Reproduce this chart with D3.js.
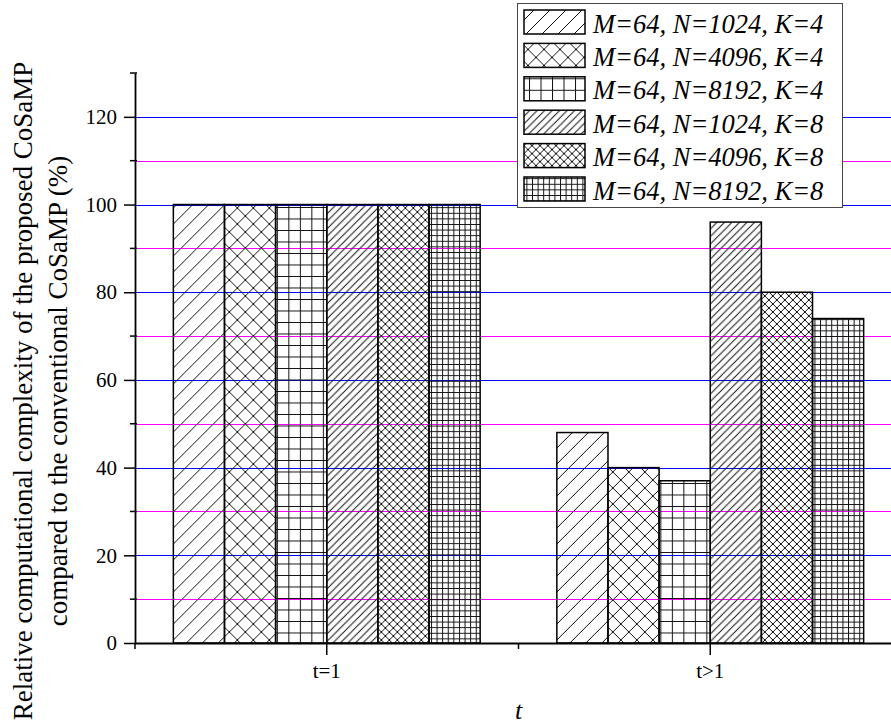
<!DOCTYPE html>
<html>
<head>
<meta charset="utf-8">
<script src="https://cdn.jsdelivr.net/npm/d3@7"></script>
<style>
  body { margin: 0; background: #fff; }
  svg text { font-family: "Liberation Serif", "Times New Roman", serif; fill: #000; }
</style>
</head>
<body>
<svg id="chart" width="891" height="725"></svg>
<script>
// data
var categories = ["t=1", "t>1"];
var seriesLabels = [
    "M=64, N=1024, K=4",
    "M=64, N=4096, K=4",
    "M=64, N=8192, K=4",
    "M=64, N=1024, K=8",
    "M=64, N=4096, K=8",
    "M=64, N=8192, K=8"
];
var seriesValues = [
    [100, 48],
    [100, 40],
    [100, 37],
    [100, 96],
    [100, 80],
    [100, 74]
];
var majorTicks = [0, 20, 40, 60, 80, 100, 120];
var minorTicks = [10, 30, 50, 70, 90, 110, 130];

var svg = d3.select("#chart");
var plotLeft = 135, plotRight = 902, plotTop = 73, plotBottom = 643;

var x0 = d3.scaleBand()
    .domain(categories)
    .range([plotLeft, plotRight])
    .paddingInner(0.2)
    .paddingOuter(0.1);

var x1 = d3.scaleBand()
    .domain(d3.range(seriesLabels.length))
    .range([0, x0.bandwidth()]);

var y = d3.scaleLinear()
    .domain([0, 130])
    .range([plotBottom, plotTop]);

// hatch patterns: kind, spacing
var patternDefs = [
    {type: "diag", s: 16},
    {type: "cross", s: 16},
    {type: "grid", s: 11.5},
    {type: "diag", s: 7.5},
    {type: "cross", s: 8},
    {type: "grid", s: 5.6}
];

var defs = svg.append("defs");
patternDefs.forEach(function (p, i) {
    var s = p.s;
    var pat = defs.append("pattern")
        .attr("id", "pat" + i)
        .attr("patternUnits", "userSpaceOnUse")
        .attr("width", s)
        .attr("height", s);
    var d = "";
    if (p.type === "diag" || p.type === "cross") {
        d += "M0," + s + "L" + s + ",0M-1,1L1,-1M" + (s - 1) + "," + (s + 1) + "L" + (s + 1) + "," + (s - 1);
    }
    if (p.type === "cross") {
        d += "M0,0L" + s + "," + s + "M-1," + (s - 1) + "L1," + (s + 1) + "M" + (s - 1) + ",-1L" + (s + 1) + ",1";
    }
    if (p.type === "grid") {
        d += "M0.5,0V" + s + "M0,0.5H" + s;
    }
    pat.append("path")
        .attr("d", d)
        .attr("stroke", "#111")
        .attr("stroke-width", 1)
        .attr("fill", "none");
});

//grid lines
svg.append("g")
    .selectAll("line")
    .data(majorTicks.slice(1).concat(minorTicks.slice(0, -1)))
    .enter()
    .append("line")
    .attr("x1", plotLeft)
    .attr("x2", 891)
    .attr("y1", function (d) { return Math.round(y(d)) + 0.5; })
    .attr("y2", function (d) { return Math.round(y(d)) + 0.5; })
    .attr("stroke", function (d) { return d % 20 === 0 ? "#0000ff" : "#ff00ff"; })
    .attr("stroke-width", 1);

//bars
var groups = svg.append("g")
    .selectAll("g")
    .data(categories)
    .enter()
    .append("g")
    .attr("transform", function (d) { return "translate(" + x0(d) + ",0)"; });

groups.selectAll("rect")
    .data(function (d, ci) {
        return seriesValues.map(function (vals, si) { return {s: si, v: vals[ci]}; });
    })
    .enter()
    .append("rect")
    .attr("x", function (d) { return x1(d.s); })
    .attr("width", x1.bandwidth())
    .attr("y", function (d) { return y(d.v); })
    .attr("height", function (d) { return y(0) - y(d.v); })
    .attr("fill", function (d) { return "url(#pat" + d.s + ")"; })
    .attr("stroke", "#000")
    .attr("stroke-width", 1.5);

//y axis
var yAxis = d3.axisLeft(y)
    .tickValues(majorTicks)
    .tickSize(11)
    .tickSizeOuter(0)
    .tickPadding(7);

var gy = svg.append("g")
    .attr("transform", "translate(" + plotLeft + ",0)")
    .call(yAxis);
gy.select(".domain").attr("stroke-width", 1.8);
gy.selectAll(".tick line").attr("stroke-width", 1.5).attr("x2", -11).attr("x1", 1);
gy.selectAll(".tick text").style("font-size", "21px");

gy.selectAll(".minor")
    .data(minorTicks)
    .enter()
    .append("line")
    .attr("class", "minor")
    .attr("x1", -5)
    .attr("x2", 2)
    .attr("y1", function (d) { return y(d); })
    .attr("y2", function (d) { return y(d); })
    .attr("stroke", "#000")
    .attr("stroke-width", 1.5);

//x axis
var xAxis = d3.axisBottom(x0)
    .tickSize(12)
    .tickSizeOuter(0)
    .tickPadding(8);

var gx = svg.append("g")
    .attr("transform", "translate(0," + plotBottom + ")")
    .call(xAxis);
gx.select(".domain").attr("stroke-width", 1.8);
gx.selectAll(".tick line").attr("stroke-width", 1.5);
gx.selectAll(".tick text").style("font-size", "21px");

gx.selectAll(".minor")
    .data(d3.range(categories.length + 1))
    .enter()
    .append("line")
    .attr("class", "minor")
    .attr("x1", function (i) { return plotLeft + i * x0.step(); })
    .attr("x2", function (i) { return plotLeft + i * x0.step(); })
    .attr("y1", 0)
    .attr("y2", 6)
    .attr("stroke", "#000")
    .attr("stroke-width", 1.5);

//axis titles
svg.append("text")
    .attr("x", (plotLeft + plotRight) / 2)
    .attr("y", 719)
    .attr("text-anchor", "middle")
    .style("font-size", "26px")
    .style("font-style", "italic")
    .text("t");

var yLabelLines = [
    "Relative computational complexity of the proposed CoSaMP",
    "compared to the conventional CoSaMP (%)"
];
svg.selectAll(".ylab")
    .data(yLabelLines)
    .enter()
    .append("text")
    .attr("class", "ylab")
    .attr("transform", function (d, i) { return "translate(" + (32 + i * 35) + ",391) rotate(-90)"; })
    .attr("text-anchor", "middle")
    .style("font-size", "27px")
    .text(function (d) { return d; });

//legend
var legend = svg.append("g");
legend.append("rect")
    .attr("x", 517.5)
    .attr("y", 3.5)
    .attr("width", 325)
    .attr("height", 204)
    .attr("fill", "#fff")
    .attr("stroke", "#444")
    .attr("stroke-width", 1);

var items = legend.selectAll(".item")
    .data(seriesLabels)
    .enter()
    .append("g")
    .attr("class", "item")
    .attr("transform", function (d, i) { return "translate(0," + (i * 33.4) + ")"; });

items.append("rect")
    .attr("x", 524)
    .attr("y", 10)
    .attr("width", 61)
    .attr("height", 24)
    .attr("fill", function (d, i) { return "url(#pat" + i + ")"; })
    .attr("stroke", "#000")
    .attr("stroke-width", 1.5);

items.append("text")
    .attr("x", 593)
    .attr("y", 32.5)
    .style("font-size", "26.5px")
    .style("font-style", "italic")
    .text(function (d) { return d; });
</script>
</body>
</html>
